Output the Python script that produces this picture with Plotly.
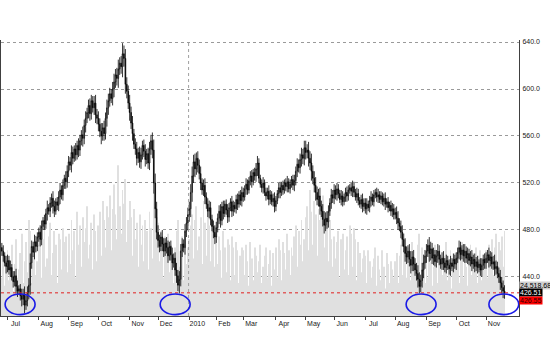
import plotly.graph_objects as go
import pandas as pd

# ---- data ----
holidays = ["2009-07-03", "2009-09-07", "2009-11-26", "2009-12-25", "2010-01-01",
            "2010-01-18", "2010-02-15", "2010-04-02", "2010-05-31", "2010-07-05", "2010-09-06"]

first_open = 465
close_2009_jun = [462, 458, 452, 449]
close_2009_jul = [454, 446, 448, 440, 436, 441, 432, 428, 430, 424, 421, 425, 416, 420, 427, 433, 452, 466, 461, 470, 466, 474]
close_2009_aug = [478, 472, 483, 488, 485, 494, 499, 496, 503, 507, 500, 496, 504, 501, 508, 514, 510, 518, 524, 521, 530]
close_2009_sep = [538, 535, 546, 541, 549, 544, 552, 548, 556, 561, 558, 569, 575, 580, 586, 579, 590, 584, 588, 578, 575]
close_2009_oct = [570, 564, 560, 567, 562, 575, 584, 590, 596, 592, 600, 606, 612, 609, 617, 622, 619, 630, 626, 604, 598, 588]
close_2009_nov = [580, 571, 562, 553, 549, 541, 546, 538, 544, 552, 547, 540, 545, 537, 549, 556, 548, 520, 498, 478]
close_2009_dec = [471, 466, 474, 468, 462, 469, 465, 458, 466, 459, 452, 456, 446, 441, 433, 438, 462, 468, 465, 479, 486, 493]
close_2010_jan = [498, 512, 526, 538, 532, 541, 535, 528, 520, 514, 518, 508, 502, 496, 499, 489, 483, 478, 474]
close_2010_feb = [482, 490, 496, 488, 500, 494, 502, 497, 491, 499, 504, 496, 501, 498, 506, 502, 510, 505, 512]
close_2010_mar = [508, 515, 519, 514, 522, 526, 521, 529, 526, 532, 537, 524, 519, 516, 520, 512, 509, 513, 506, 510, 504, 507, 500]
close_2010_apr = [505, 511, 516, 512, 518, 514, 520, 517, 521, 515, 519, 523, 518, 522, 530, 536, 533, 540, 544, 541, 550]
close_2010_may = [546, 548, 541, 537, 530, 524, 518, 512, 506, 509, 500, 496, 489, 484, 490, 487, 496, 503, 510, 507]
close_2010_jun = [514, 510, 515, 511, 506, 509, 504, 508, 512, 509, 514, 516, 513, 517, 512, 508, 511, 505, 502, 506, 500, 503]
close_2010_jul = [498, 502, 499, 505, 508, 504, 510, 512, 508, 510, 506, 509, 504, 507, 502, 504, 499, 501, 496, 498, 493]
close_2010_aug = [495, 490, 486, 483, 478, 472, 466, 460, 457, 462, 455, 450, 457, 451, 446, 443, 438, 432, 437, 446, 452, 458]
close_2010_sep = [462, 467, 460, 464, 456, 459, 453, 458, 462, 455, 451, 456, 452, 448, 454, 450, 447, 452, 449, 455, 451]
close_2010_oct = [456, 461, 465, 459, 463, 458, 462, 456, 460, 454, 457, 451, 455, 449, 453, 448, 451, 446, 450, 455, 452]
close_2010_nov = [456, 459, 454, 457, 451, 453, 447, 449, 443, 440, 435, 431, 428, 426.51]

# intraday wick beyond the candle body (price units)
wick_2009_jun = [4, 5, 3, 6]
wick_2009_jul = [5, 4, 6, 3, 5, 4, 6, 5, 3, 4, 6, 5, 7, 4, 5, 6, 8, 5, 4, 6, 5, 4]
wick_2009_aug = [4, 6, 5, 3, 5, 4, 6, 3, 5, 4, 6, 5, 3, 4, 5, 6, 4, 5, 3, 6, 5]
wick_2009_sep = [5, 4, 6, 5, 3, 5, 4, 6, 5, 4, 7, 5, 6, 4, 5, 6, 5, 4, 6, 7, 5]
wick_2009_oct = [6, 5, 7, 4, 6, 5, 7, 6, 5, 4, 6, 7, 5, 6, 8, 5, 6, 9, 7, 8, 6, 5]
wick_2009_nov = [7, 5, 6, 4, 5, 6, 4, 5, 6, 4, 5, 6, 4, 5, 6, 5, 7, 9, 8, 6]
wick_2009_dec = [6, 5, 4, 6, 5, 4, 5, 6, 4, 5, 6, 4, 5, 6, 5, 7, 6, 5, 4, 6, 5, 6]
wick_2010_jan = [6, 7, 8, 6, 7, 5, 6, 5, 6, 4, 5, 6, 4, 5, 6, 5, 4, 5, 6]
wick_2010_feb = [5, 4, 5, 6, 4, 5, 3, 4, 5, 4, 3, 5, 4, 3, 4, 5, 3, 4, 5]
wick_2010_mar = [4, 3, 5, 4, 3, 4, 5, 3, 4, 5, 6, 4, 3, 4, 5, 3, 4, 3, 5, 4, 3, 4, 5]
wick_2010_apr = [4, 3, 4, 5, 3, 4, 3, 4, 5, 3, 4, 3, 4, 5, 4, 5, 4, 5, 6, 5, 6]
wick_2010_may = [6, 5, 7, 6, 8, 5, 6, 7, 5, 6, 7, 5, 6, 7, 5, 6, 5, 4, 5, 4]
wick_2010_jun = [5, 4, 5, 4, 3, 5, 4, 3, 4, 5, 4, 3, 4, 5, 4, 3, 5, 4, 3, 4, 5, 4]
wick_2010_jul = [4, 5, 3, 4, 5, 3, 4, 3, 4, 5, 3, 4, 3, 4, 5, 3, 4, 3, 4, 5, 4]
wick_2010_aug = [4, 5, 6, 4, 5, 6, 5, 7, 6, 5, 6, 7, 5, 6, 5, 6, 7, 6, 5, 6, 7, 5]
wick_2010_sep = [6, 5, 7, 6, 5, 6, 4, 5, 6, 5, 4, 5, 6, 4, 5, 4, 5, 6, 4, 5, 4]
wick_2010_oct = [5, 4, 6, 5, 4, 5, 6, 4, 5, 4, 5, 6, 4, 5, 4, 5, 4, 5, 6, 4, 5]
wick_2010_nov = [5, 4, 6, 5, 4, 5, 6, 5, 4, 5, 6, 5, 6, 5]

vol_2009_jun = [14, 22, 11, 20]
vol_2009_jul = [24, 13, 18, 26, 9, 19, 28, 14, 17, 23, 30, 12, 20, 27, 16, 35, 31, 12, 22, 28, 15, 20]
vol_2009_aug = [26, 31, 14, 28, 33, 18, 21, 29, 34, 15, 23, 31, 26, 12, 30, 28, 17, 32, 27, 29, 16]
vol_2009_sep = [30, 19, 35, 24, 31, 14, 38, 26, 33, 18, 36, 27, 32, 40, 21, 26, 34, 17, 37, 31, 20]
vol_2009_oct = [33, 38, 22, 42, 35, 25, 40, 36, 44, 24, 39, 48, 37, 28, 55, 40, 30, 46, 41, 50, 27, 35]
vol_2009_nov = [42, 36, 22, 39, 28, 34, 18, 37, 26, 33, 20, 35, 31, 17, 38, 32, 21, 45, 40, 36]
vol_2009_dec = [34, 20, 31, 25, 14, 29, 23, 30, 16, 26, 22, 12, 25, 31, 35, 18, 24, 29, 13, 26, 19, 25]
vol_2010_jan = [28, 33, 37, 21, 35, 40, 24, 29, 36, 19, 42, 34, 22, 38, 33, 20, 35, 31, 18]
vol_2010_feb = [30, 19, 29, 24, 14, 31, 25, 16, 28, 26, 13, 29, 25, 15, 27, 24, 12, 22, 25]
vol_2010_mar = [24, 15, 26, 20, 11, 27, 21, 13, 25, 22, 16, 20, 26, 12, 18, 22, 25, 14, 19, 24, 11, 23, 17]
vol_2010_apr = [25, 14, 28, 24, 13, 27, 23, 17, 30, 24, 15, 25, 22, 29, 33, 18, 31, 26, 35, 20, 28]
vol_2010_may = [36, 40, 24, 46, 38, 26, 42, 37, 22, 39, 35, 41, 44, 25, 33, 38, 20, 35, 28, 18]
vol_2010_jun = [29, 21, 27, 31, 14, 28, 30, 17, 24, 29, 15, 33, 30, 18, 32, 28, 13, 27, 23, 16, 21, 24]
vol_2010_jul = [22, 12, 24, 20, 14, 18, 21, 25, 11, 22, 17, 13, 24, 18, 10, 23, 19, 12, 20, 17, 14]
vol_2010_aug = [20, 23, 12, 22, 26, 15, 24, 28, 14, 25, 20, 13, 27, 21, 16, 19, 26, 30, 15, 25, 20, 12]
vol_2010_sep = [22, 14, 24, 20, 11, 18, 26, 21, 12, 23, 20, 15, 19, 22, 27, 13, 18, 24, 10, 19, 23]
vol_2010_oct = [21, 25, 12, 23, 27, 14, 22, 18, 11, 21, 26, 15, 23, 20, 25, 12, 22, 24, 13, 21, 23]
vol_2010_nov = [24, 14, 26, 22, 28, 15, 25, 30, 16, 27, 24, 29, 18, 31]

month_labels = ["Jul", "Aug", "Sep", "Oct", "Nov", "Dec", "2010", "Feb", "Mar", "Apr",
                "May", "Jun", "Jul", "Aug", "Sep", "Oct", "Nov"]
price_ticks = [440, 480, 520, 560, 600, 640]

last_volume_label = "24,518.68"
last_close_label = "426.51"
alt_close_label = "426.55"

# highlighted lows (trading-day index span of each ellipse)
ellipse_spans = [(2.3, 23.4), (111.5, 132.6), (284.7, 305.8), (343.0, 364.0)]

# ---- assemble ----
close = (close_2009_jun + close_2009_jul + close_2009_aug + close_2009_sep + close_2009_oct +
         close_2009_nov + close_2009_dec + close_2010_jan + close_2010_feb + close_2010_mar +
         close_2010_apr + close_2010_may + close_2010_jun + close_2010_jul + close_2010_aug +
         close_2010_sep + close_2010_oct + close_2010_nov)
wick = (wick_2009_jun + wick_2009_jul + wick_2009_aug + wick_2009_sep + wick_2009_oct +
        wick_2009_nov + wick_2009_dec + wick_2010_jan + wick_2010_feb + wick_2010_mar +
        wick_2010_apr + wick_2010_may + wick_2010_jun + wick_2010_jul + wick_2010_aug +
        wick_2010_sep + wick_2010_oct + wick_2010_nov)
volume = (vol_2009_jun + vol_2009_jul + vol_2009_aug + vol_2009_sep + vol_2009_oct +
          vol_2009_nov + vol_2009_dec + vol_2010_jan + vol_2010_feb + vol_2010_mar +
          vol_2010_apr + vol_2010_may + vol_2010_jun + vol_2010_jul + vol_2010_aug +
          vol_2010_sep + vol_2010_oct + vol_2010_nov)

dates = pd.bdate_range("2009-06-25", "2010-11-18", freq="C", holidays=holidays)
n = min(len(dates), len(close), len(volume), len(wick))
dates = dates[:n]
close = close[:n]
volume = volume[:n]
wick = wick[:n]
idx = list(range(n))

opens = [first_open] + close[:-1]
highs = [max(o, c) + w for o, c, w in zip(opens, close, wick)]
lows = [min(o, c) - w for o, c, w in zip(opens, close, wick)]

month_starts = [i for i in range(1, n) if dates[i].month != dates[i - 1].month]
tickvals = month_starts[:len(month_labels)]
jan_idx = tickvals[month_labels.index("2010")]

fig = go.Figure()
fig.add_trace(go.Bar(
    x=idx, y=volume, yaxis="y", marker=dict(color="#e0e0e0", line=dict(width=0)),
    hovertext=[d.strftime("%Y-%m-%d") for d in dates], showlegend=False,
))
fig.add_trace(go.Candlestick(
    x=idx, open=opens, high=highs, low=lows, close=close, yaxis="y2",
    increasing=dict(line=dict(color="#000000", width=0.8), fillcolor="#ffffff"),
    decreasing=dict(line=dict(color="#000000", width=0.8), fillcolor="#000000"),
    whiskerwidth=0, showlegend=False,
    text=[d.strftime("%Y-%m-%d") for d in dates],
))

px_per_day = 1.42
x0 = -0.6
x1 = x0 + 518 / px_per_day

shapes = []
# year separator
shapes.append(dict(type="line", xref="x", yref="paper", x0=jan_idx - 0.5, x1=jan_idx - 0.5,
                   y0=0, y1=1, line=dict(color="#a0a0a0", width=1, dash="dot"), layer="above"))
# last close line
shapes.append(dict(type="line", xref="paper", yref="y2", x0=0, x1=1, y0=close[-1], y1=close[-1],
                   line=dict(color="#e02020", width=1, dash="dot"), layer="above"))
for a, b in ellipse_spans:
    shapes.append(dict(type="circle", xref="x", yref="y2", x0=a, x1=b, y0=408, y1=425.5,
                       line=dict(color="#1a1ae6", width=1.6), layer="above"))

annotations = [
    dict(xref="paper", yref="y2", x=1, y=close[-1], xanchor="left", yanchor="middle",
         text=last_volume_label, showarrow=False, yshift=7, xshift=0,
         font=dict(size=7, color="#000000", family="Liberation Sans"),
         bgcolor="#cfcfcf", borderpad=0),
    dict(xref="paper", yref="y2", x=1, y=close[-1], xanchor="left", yanchor="middle",
         text=last_close_label, showarrow=False, yshift=0, xshift=0,
         font=dict(size=7, color="#ffffff", family="Liberation Sans"),
         bgcolor="#000000", borderpad=0),
    dict(xref="paper", yref="y2", x=1, y=close[-1], xanchor="left", yanchor="middle",
         text=alt_close_label, showarrow=False, yshift=-8, xshift=0,
         font=dict(size=7, color="#300000", family="Liberation Sans"),
         bgcolor="#ff0000", borderpad=0),
]

fig.update_layout(
    width=550, height=364,
    margin=dict(l=1, r=31, t=40, b=48),
    paper_bgcolor="#ffffff", plot_bgcolor="#ffffff",
    showlegend=False, bargap=0.4,
    font=dict(family="Liberation Sans", size=7, color="#202020"),
    xaxis=dict(
        range=[x0, x1], rangeslider=dict(visible=False),
        tickmode="array", tickvals=tickvals, ticktext=month_labels,
        ticks="outside", ticklen=3, tickcolor="#404040", tickwidth=1,
        ticklabelshift=8, ticklabelstandoff=-2,
        showgrid=False, zeroline=False,
        showline=True, linecolor="#404040", linewidth=1,
        tickfont=dict(size=7, color="#202020"),
    ),
    yaxis=dict(range=[0, 100.7], visible=False, showgrid=False, fixedrange=True),
    yaxis2=dict(
        overlaying="y", side="right", range=[406.8, 641.7],
        tickmode="array", tickvals=price_ticks, tickformat=".1f",
        ticks="", showgrid=True, gridcolor="#9a9a9a", griddash="dot", gridwidth=1,
        zeroline=False, showline=True, linecolor="#404040", linewidth=1, mirror=True,
        tickfont=dict(size=7, color="#202020"), ticklabelstandoff=1,
    ),
    shapes=shapes, annotations=annotations,
)

fig.write_html("out.html", config={"displayModeBar": False},
               post_script="document.body.style.margin='0px';")
